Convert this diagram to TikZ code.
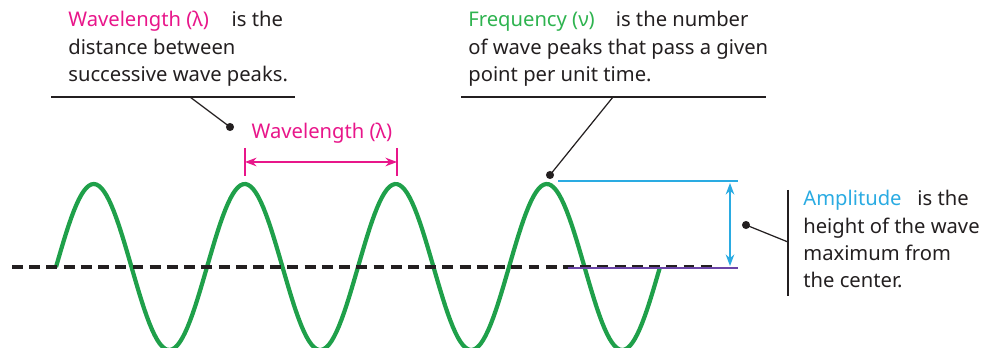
\documentclass[tikz,border=0pt]{standalone}
\usepackage{fontspec}
\setmainfont{Noto Sans}
\usetikzlibrary{arrows.meta}
\definecolor{wavegreen}{HTML}{1FA04A}
\definecolor{freqgreen}{HTML}{2EB34F}
\definecolor{lambdapink}{HTML}{E8168A}
\definecolor{ampblue}{HTML}{2AABE2}
\definecolor{centerpurple}{HTML}{6B45A8}
\definecolor{textgray}{HTML}{231F20}
\tikzset{
  caption/.style={anchor=north west, inner sep=0pt, align=left, text=textgray,
    font=\fontsize{11.5}{15.6}\selectfont},
  leader/.style={line width=0.7pt, draw=textgray},
  pin dot/.style={circle, fill=textgray, inner sep=0pt, minimum size=4.6pt},
}
\begin{document}
\begin{tikzpicture}[x=0.02cm, y=-0.02cm, >=Stealth]
		\useasboundingbox (0,0) rectangle (981,348);
		
		% Captions
		\node[caption] (wltext) at (68,11) {\textcolor{lambdapink}{Wavelength (λ)}\hspace{13pt}is the\\distance between\\successive wave peaks.};
		\node[caption] (freqtext) at (468,11) {\textcolor{freqgreen}{Frequency (ν)}\hspace{12pt}is the number\\of wave peaks that pass a given\\point per unit time.};
		\node[caption] (amptext) at (803,190) {\textcolor{ampblue}{Amplitude}\hspace{9pt}is the\\height of the wave\\maximum from\\the center.};
		
		% Wave
		\draw[wavegreen, line width=2.4pt] plot[domain=56:660, samples=240] (\x, {267-83*sin((\x-56)/151*360)});
		\draw[textgray, line width=2.2pt, dash pattern=on 6.2pt off 3.6pt] (12,267) -- (712,267);
		\draw[centerpurple, line width=0.7pt] (568,268) -- (738,268);
		
		% Wavelength marker
		\node[anchor=base, text=lambdapink, font=\fontsize{11.5}{15.6}\selectfont] (wllabel) at (322,139) {Wavelength (λ)};
		\draw[lambdapink, line width=0.8pt] (245,148) -- (245,176);
		\draw[lambdapink, line width=0.8pt] (397,148) -- (397,176);
		\coordinate (wlL) at (245,162);
		\coordinate (wlR) at (397,162);
		\draw[<->, lambdapink, line width=0.8pt] (wlL) -- (wlR);
		
		% Amplitude marker
		\draw[ampblue, line width=0.7pt] (558,181) -- (738,181);
		\coordinate (ampT) at (730,183);
		\coordinate (ampB) at (730,266);
		\draw[<->, ampblue, line width=0.8pt] (ampT) -- (ampB);
		
		% Rules and leaders
		\draw[leader] (51,97) -- (295,97);
		\draw[leader] (461,97) -- (766,97);
		\draw[leader] (788,190) -- (788,296);
		\node[pin dot] (wldot) at (230,127) {};
		\node[pin dot] (freqdot) at (550,175) {};
		\node[pin dot] (ampdot) at (746,225) {};
		\coordinate (wlfoot) at (190,97);
		\coordinate (freqfoot) at (613,97);
		\coordinate (ampfoot) at (788,242);
		\draw[leader] (wlfoot) -- (wldot.center);
		\draw[leader] (freqfoot) -- (freqdot.center);
		\draw[leader] (ampfoot) -- (ampdot.center);
		
	\end{tikzpicture}
\end{document}
